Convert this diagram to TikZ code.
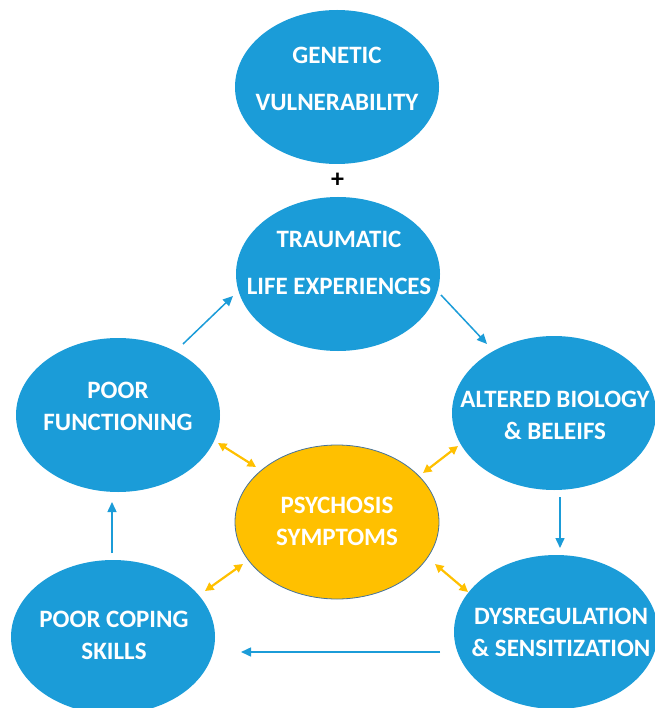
\documentclass[tikz,border=0pt]{standalone}
\usepackage{fontspec}
\setmainfont{Carlito}
\usetikzlibrary{shapes.geometric,arrows.meta,calc}
\definecolor{cblue}{RGB}{27,156,216}
\definecolor{corange}{RGB}{255,192,0}
\definecolor{cedge}{RGB}{70,115,155}
\begin{document}
\begin{tikzpicture}[x=1pt,y=-1pt,
  bubble/.style={ellipse, fill=cblue, minimum width=204pt, minimum height=154pt, inner sep=0pt},
  core/.style={bubble, fill=corange, draw=cedge, line width=0.8pt},
  lbl/.style={text=white, align=center, inner sep=0pt, font=\fontsize{25}{32}\selectfont\bfseries},
  wide/.style={font=\fontsize{25}{47}\selectfont\bfseries},
  barrow/.style={cblue, line width=1.5pt, -{Triangle[length=10pt,width=9pt]}},
  oarrow/.style={corange, line width=2.2pt, {Triangle[length=8.5pt,width=8.5pt]}-{Triangle[length=8.5pt,width=8.5pt]}}]
\useasboundingbox (0,0) rectangle (654,708);
\node[bubble] (gen) at (337,87) {};
\node[bubble] (tr) at (338,274) {};
\node[bubble] (pf) at (118,415) {};
\node[bubble] (ab) at (554,413) {};
\node[core] (ps) at (337,522) {};
\node[bubble] (pc) at (113,637) {};
\node[bubble] (dy) at (556,632) {};
\node[lbl,wide] (genT) at (337,78.5) {GENETIC\\VULNERABILITY};
\node[lbl,wide] (trT) at (339,262.5) {TRAUMATIC\\LIFE EXPERIENCES};
\node[lbl] (pfT) at (118,406.5) {POOR\\FUNCTIONING};
\node[lbl] (abT) at (555,415) {ALTERED BIOLOGY\\\& BELEIFS};
\node[lbl] (psT) at (337,521) {PSYCHOSIS\\SYMPTOMS};
\node[lbl] (pcT) at (114,635) {POOR COPING\\SKILLS};
\node[lbl] (dyT) at (561,632) {DYSREGULATION\\\& SENSITIZATION};
\node[inner sep=0pt, font=\fontsize{26}{28}\selectfont\bfseries] (plus) at ($(gen)!0.5!(tr)$) {+};
\draw[barrow] ($(pf)+(65,-71)$) -- ($(tr)+(-105,22)$);
\draw[barrow] ($(tr)+(103,21)$) -- ($(ab)+(-67,-69)$);
\draw[barrow] ($(ab)+(6,84)$) -- ($(dy)+(4,-84)$);
\draw[barrow] ($(dy)+(-116,20)$) -- ($(pc)+(128,15)$);
\draw[barrow] ($(pc)+(-1,-84)$) -- ($(pf)+(-6,87)$);
\draw[oarrow] ($(pf)+(100,28)$) -- ($(ps)+(-81,-55)$);
\draw[oarrow] ($(ab)+(-96,33)$) -- ($(ps)+(86,-49)$);
\draw[oarrow] ($(pc)+(92,-46)$) -- ($(ps)+(-94,42)$);
\draw[oarrow] ($(dy)+(-88,-40)$) -- ($(ps)+(98,42)$);
\end{tikzpicture}
\end{document}
